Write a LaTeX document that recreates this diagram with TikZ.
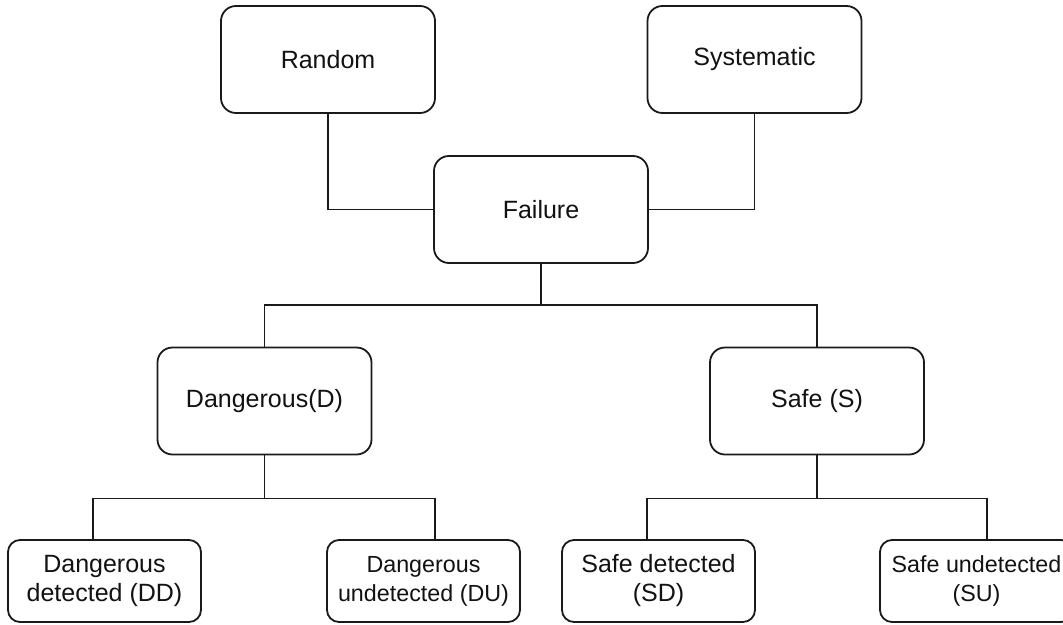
\documentclass[tikz,border=0pt]{standalone}
\usepackage{fontspec}
\setmainfont{Liberation Sans}
\usetikzlibrary{calc}
\definecolor{linec}{HTML}{1A1A1A}
\definecolor{txtc}{HTML}{121212}
\begin{document}
\begin{tikzpicture}[x=1pt,y=-1pt,
  box/.style={draw=linec, line width=1.8pt, rounded corners=15pt,
    minimum width=214pt, minimum height=107pt, inner sep=0pt,
    align=center, text=txtc, font=\fontsize{25}{29}\selectfont},
  leaf/.style={box, minimum width=193pt, minimum height=82pt, rounded corners=12pt},
  smalltext/.style={font=\fontsize{23.3}{29}\selectfont},
  link/.style={draw=linec, line width=1.8pt}]
\useasboundingbox (0,0) rectangle (1063,624);
\fill[white] (0,0) rectangle (1063,624);

% cause categories and the central failure node
\node[box] (rand) at (328,59.5) {Random};
\node[box] (sys)  at (754.5,59.5) {Systematic};
\node[box] (fail) at (541,209.5) {Failure};

% failure modes
\node[box] (dang) at (264.5,401) {Dangerous(D)};
\node[box] (safe) at (817,401) {Safe (S)};

% detected / undetected split
\node[leaf] (dd) at (104.5,581) {Dangerous\\detected (DD)};
\node[leaf, smalltext] (du) at (423.5,581) {Dangerous\\undetected (DU)};
\node[leaf] (sd) at (658.5,581) {Safe detected\\(SD)};
\node[leaf, smalltext] (su) at (976.5,581) {Safe undetected\\(SU)};

% causes into failure
\draw[link] (rand.south) |- (fail.west);
\draw[link] (sys.south) |- (fail.east);

% failure bus
\coordinate (fbus) at ($(fail.south)+(0,41)$);
\draw[link] (fail.south) -- (fbus);
\draw[link] (dang.north) |- (fbus) -| (safe.north);

% dangerous bus
\coordinate (dbus) at ($(dang.south)+(0,43)$);
\draw[link] (dang.south) -- (dbus);
\draw[link] ([xshift=-11.5pt]dd.north) |- (dbus) -| ([xshift=11.5pt]du.north);

% safe bus
\coordinate (sbus) at ($(safe.south)+(0,43)$);
\draw[link] (safe.south) -- (sbus);
\draw[link] ([xshift=-11.5pt]sd.north) |- (sbus) -| ([xshift=10.5pt]su.north);
\end{tikzpicture}
\end{document}
